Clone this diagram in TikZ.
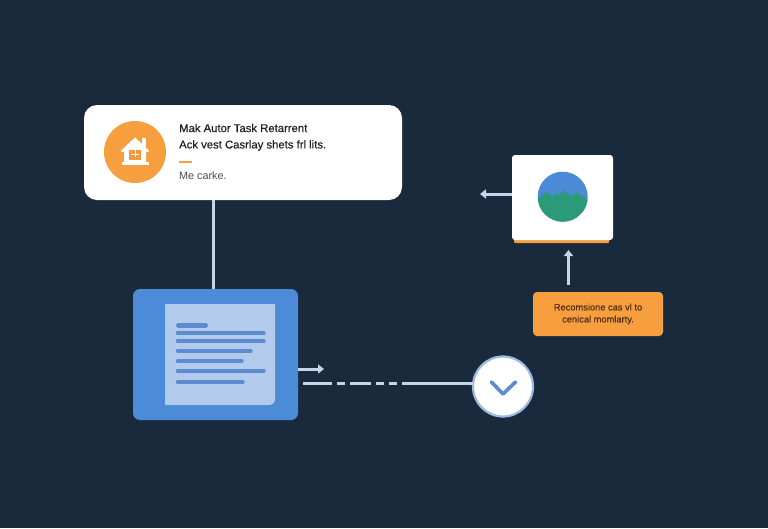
\documentclass[tikz,border=0pt]{standalone}
\usepackage{fontspec}
\setmainfont{Liberation Sans}
\newfontfamily\semib[FakeBold=0.35]{Liberation Sans}
\usetikzlibrary{arrows.meta}
\definecolor{bgc}{HTML}{1A2A3D}
\definecolor{orangec}{HTML}{F79E3E}
\definecolor{bluec}{HTML}{4C8BD8}
\definecolor{docc}{HTML}{B2CAEC}
\definecolor{linec}{HTML}{5C8BCF}
\definecolor{connc}{HTML}{C6D6EA}
\definecolor{inkc}{HTML}{1E2024}
\definecolor{greenc}{HTML}{2B9A78}
\definecolor{skyc}{HTML}{4A8AD6}
\definecolor{brownc}{HTML}{4F3014}
\tikzset{
  x=1pt,y=-1pt,
  conn/.style={draw=connc,line width=3pt},
  arr/.style={conn,-{Triangle[width=9pt,length=6pt]}},
  cardtext/.style={anchor=west,inner sep=0pt,text=inkc,font=\semib\fontsize{11.3}{13}\selectfont},
  docbar/.style={draw=linec,line width=3.4pt,line cap=round},
  box/.style={minimum width=#1,inner sep=0pt,outer sep=0pt}
}
\begin{document}
\begin{tikzpicture}
\fill[bgc] (0,0) rectangle (768,528);
\useasboundingbox (0,0) rectangle (768,528);
% top card
\node[box=318pt,minimum height=95pt,fill=white,rounded corners=13pt] (card) at (243,152.5) {};
\node[circle,box=62pt,fill=orangec] (badge) at (135,152) {};
\begin{scope}[shift={(135,152)}]
\fill[white] (7,-14) rectangle (11,-5);
\fill[white] (-14.5,-1) -- (0,-14.5) -- (14.5,-1) -- (12,0) -- (0,-10) -- (-12,0) -- cycle;
\fill[white] (-11,-2) -- (0,-12) -- (11,-2) -- (11,10) -- (-11,10) -- cycle;
\fill[white] (-13.5,9.5) rectangle (13.5,12.5);
\fill[orangec!88!brown] (-6,-2) rectangle (6,8);
\draw[white,line width=.9pt] (0,-2) -- (0,5) (-4,2) -- (4,2);
\end{scope}
\node[cardtext] (t1) at (179,128) {Mak Autor Task Retarrent};
\node[cardtext] (t2) at (179,145.5) {Ack vest Casrlay shets frl lits.};
\fill[orangec] (179,160.5) rectangle (192,162.5);
\node[cardtext,text=inkc!80!white,font=\fontsize{10.8}{13}\selectfont] (t3) at (179,176) {Me carke.};
% right card
\fill[orangec,rounded corners=1pt] (514,236) rectangle (609,243);
\node[box=101pt,minimum height=85pt,fill=white,rounded corners=3pt] (pic) at (562.5,197.5) {};
\begin{scope}
\clip (562.7,196.7) circle (25);
\fill[skyc] (537,171) rectangle (589,222);
\fill[greenc] (537,199) -- (546.7,191.7) -- (551.7,196.7) -- (557,193) -- (560,195) -- (564.3,190) -- (571.7,196.7) -- (576.7,192.3) -- (588,200) -- (588,222) -- (537,222) -- cycle;
\end{scope}
\coordinate (picout) at (480,194);
\draw[arr] (pic.west |- picout) -- (picout);
% orange note
\node[box=130pt,minimum height=44pt,fill=orangec,rounded corners=4pt,align=center,text=brownc,font=\semib\fontsize{9.3}{12}\selectfont] (note) at (598,314) {Recomsione cas vl to\\cenical momlarty.};
\coordinate (noteup) at (568.5,250);
\coordinate (notefoot) at (568.5,285);
\draw[arr] (notefoot) -- (noteup);
% blue box
\node[box=165pt,minimum height=131pt,fill=bluec,rounded corners=7pt] (blue) at (215.5,354.5) {};
\fill[docc] (165,304) -- (275,304) -- (275,398) .. controls (275,403) and (273,405) .. (268,405) -- (165,405) -- cycle;
\draw[linec,line width=5pt,line cap=round] (178.5,325) -- (205.5,325);
\foreach \yy/\xx in {333/264,341/264,351/251,361/242,371/264,382/243}{
  \draw[docbar] (177.5,\yy) -- (\xx,\yy);
}
% connectors
\coordinate (drop) at (213,240);
\draw[conn] (card.south -| drop) -- (blue.north -| drop);
\coordinate (bluearrow) at (324,369);
\draw[arr] (blue.east |- bluearrow) -- (bluearrow);
\node[circle,box=60pt,fill=white,draw=linec!60!white,line width=2.2pt] (check) at (503,386.5) {};
\coordinate (dashstart) at (303,383);
\draw[conn,dash pattern=on 29pt off 5pt on 8pt off 5pt on 21pt off 5pt on 8pt off 5pt on 8pt off 5pt on 200pt] (dashstart) -- (check.west |- dashstart);
\draw[draw=linec,line width=3.6pt,line cap=round,line join=round] (491.5,382) -- (503,394) -- (515.5,382);
\end{tikzpicture}
\end{document}
